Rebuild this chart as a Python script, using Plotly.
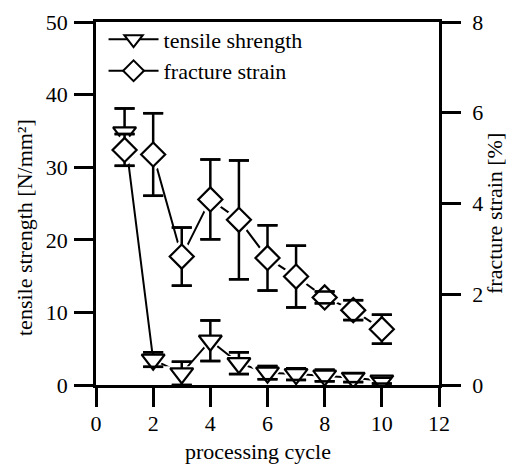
import plotly.graph_objects as go

# ---- data ----
cycles = [1, 2, 3, 4, 5, 6, 7, 8, 9, 10]
tensile = [34.8, 3.5, 1.6, 6.1, 3.0, 1.7, 1.5, 1.3, 1.0, 0.6]
tensile_err = [3.3, 1.0, 1.6, 2.8, 1.5, 0.9, 0.8, 0.8, 0.6, 0.4]
fracture = [5.18, 5.08, 2.83, 4.09, 3.64, 2.80, 2.39, 1.93, 1.65, 1.23]
fracture_err = [0.35, 0.91, 0.64, 0.88, 1.31, 0.72, 0.68, 0.13, 0.22, 0.32]

x_ticks = [0, 2, 4, 6, 8, 10, 12]
y_ticks = [0, 10, 20, 30, 40, 50]
y2_ticks = [0, 2, 4, 6, 8]

x_title = "processing cycle"
y_title = "tensile strength [N/mm²]"
y2_title = "fracture strain [%]"

FONT = "Liberation Serif"
FS = 22
BLACK = "black"
LW = 2.5

fig = go.Figure()

def add_series(y, err, yaxis, symbol, msize, name):
    # line with white halos (gap between line and symbol)
    fig.add_trace(go.Scatter(
        x=cycles, y=y, yaxis=yaxis, mode="lines+markers", showlegend=False,
        line=dict(color=BLACK, width=2),
        marker=dict(symbol=symbol, size=msize + 9, color="white", line=dict(width=0)),
        hoverinfo="skip"))
    # error bars (stems under the symbol)
    fig.add_trace(go.Scatter(
        x=cycles, y=y, yaxis=yaxis, mode="markers", showlegend=False,
        marker=dict(size=1, opacity=0),
        error_y=dict(type="data", array=err, visible=True, color=BLACK,
                     thickness=2.5, width=10),
        hoverinfo="skip"))
    # symbols
    fig.add_trace(go.Scatter(
        x=cycles, y=y, yaxis=yaxis, mode="markers", showlegend=False, name=name,
        marker=dict(symbol=symbol, size=msize, color="white",
                    line=dict(color=BLACK, width=2.2))))
    # caps drawn on top
    caps_y = [v + e for v, e in zip(y, err)] + [v - e for v, e in zip(y, err)]
    fig.add_trace(go.Scatter(
        x=cycles + cycles, y=caps_y, yaxis=yaxis, mode="markers", showlegend=False,
        marker=dict(symbol="line-ew", size=14.3, line=dict(color=BLACK, width=2.5)),
        hoverinfo="skip"))

add_series(tensile, tensile_err, "y", "triangle-down", 20, "tensile shrength")
add_series(fracture, fracture_err, "y2", "diamond", 18.5, "fracture strain")

# legend entries
for name, symbol in [("tensile shrength", "triangle-down"), ("fracture strain", "diamond")]:
    fig.add_trace(go.Scatter(
        x=[None], y=[None], mode="lines+markers", name=name,
        line=dict(color=BLACK, width=2),
        marker=dict(symbol=symbol, size=16, color="white", line=dict(color=BLACK, width=2))))

axis_common = dict(
    showline=True, linecolor=BLACK, linewidth=LW,
    ticks="outside", ticklen=19, tickwidth=LW, tickcolor=BLACK,
    showgrid=False, zeroline=False, automargin=False,
    tickfont=dict(family=FONT, size=FS, color=BLACK),
)

fig.update_layout(
    width=507, height=466,
    margin=dict(l=96, r=68, t=22, b=81),
    paper_bgcolor="white", plot_bgcolor="white",
    font=dict(family=FONT, size=FS, color=BLACK),
    xaxis=dict(range=[0, 12], tickvals=x_ticks, mirror=True,
               ticklabelstandoff=-2, **axis_common),
    yaxis=dict(range=[0, 50], tickvals=y_ticks,
               ticklabelstandoff=2, **axis_common),
    yaxis2=dict(range=[0, 8], tickvals=y2_ticks, overlaying="y", side="right",
                ticklabelstandoff=7, **axis_common),
    legend=dict(x=0.022, y=1.01, xanchor="left", yanchor="top",
                bgcolor="rgba(0,0,0,0)", borderwidth=0,
                font=dict(family=FONT, size=FS, color=BLACK),
                itemwidth=50, tracegroupgap=0),
    showlegend=True,
    annotations=[
        dict(text=x_title, xref="paper", yref="paper",
             x=(257.5 - 96) / 343, y=(385 - 451) / 363, xanchor="center", yanchor="middle",
             showarrow=False, font=dict(family=FONT, size=FS, color=BLACK)),
        dict(text=y_title, textangle=-90, xref="paper", yref="paper",
             x=(25 - 96) / 343, y=(385 - 228) / 363, xanchor="center", yanchor="middle",
             showarrow=False, font=dict(family=FONT, size=FS, color=BLACK)),
        dict(text=y2_title, textangle=-90, xref="paper", yref="paper",
             x=(494 - 96) / 343, y=(385 - 214) / 363, xanchor="center", yanchor="middle",
             showarrow=False, font=dict(family=FONT, size=FS, color=BLACK)),
    ],
)

fig.write_html("out.html")
